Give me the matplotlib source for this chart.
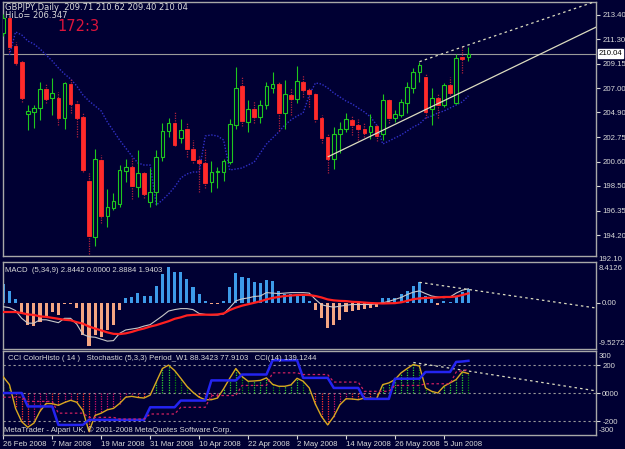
import matplotlib
matplotlib.use('Agg')
import matplotlib.pyplot as plt
import matplotlib.transforms as mtransforms
from matplotlib import font_manager
import numpy as np

plt.rcParams['font.family'] = ['DejaVu Sans']

def have_font(name):
    try:
        font_manager.findfont(font_manager.FontProperties(family=name), fallback_to_default=False)
        return True
    except Exception:
        return False

if have_font('Liberation Sans Narrow'):
    AXF = dict(family='Liberation Sans Narrow', size=6.6)
else:
    AXF = dict(family='Liberation Sans', size=5.6)

BG = '#000033'
FG = '#d8d8d8'
FRAME = '#a8a8a8'
GREEN = '#1ec81e'
RED = '#ff2a2a'
REDWICK = '#b0203c'

# ---------------- data ----------------
date_ticks = [0, 8, 16, 24, 32, 40, 48, 56, 64, 72]
date_labels = ['26 Feb 2008', '7 Mar 2008', '19 Mar 2008', '31 Mar 2008', '10 Apr 2008',
               '22 Apr 2008', '2 May 2008', '14 May 2008', '26 May 2008', '5 Jun 2008']

opens = [211.83, 213.10, 210.70, 209.33, 204.77, 204.97, 205.27, 206.92, 206.14, 206.14,
         204.39, 207.38, 205.64, 204.48, 198.93, 194.07, 200.76, 195.90, 196.55, 196.92,
         199.83, 200.17, 198.43, 199.60, 197.12, 197.99, 200.99, 203.29, 203.96, 202.70,
         203.44, 201.72, 200.76, 200.52, 198.87, 199.69, 199.74, 200.61, 203.81, 207.24,
         204.10, 205.20, 204.53, 205.55, 207.01, 207.36, 204.83, 206.43, 206.08, 207.58,
         206.86, 206.51, 204.39, 202.74, 200.82, 203.00, 203.46, 204.25, 203.81, 203.44,
         203.17, 203.72, 203.00, 205.99, 204.46, 204.68, 205.75, 207.01, 208.46, 208.02,
         205.18, 206.14, 205.55, 207.30, 205.75, 209.76, 209.71]
highs = [213.50, 213.40, 211.05, 209.48, 205.55, 205.55, 207.58, 207.50, 207.88, 206.71,
         207.58, 207.82, 205.99, 204.97, 199.60, 201.72, 201.19, 198.20, 197.85, 200.32,
         200.85, 200.91, 201.63, 199.74, 200.03, 201.63, 203.96, 204.45, 205.03, 204.31,
         203.96, 202.50, 201.13, 201.78, 200.67, 200.17, 200.85, 204.33, 208.89, 208.02,
         205.99, 205.90, 205.99, 207.53, 208.46, 207.58, 207.73, 207.01, 208.95, 208.17,
         207.15, 206.71, 204.68, 203.14, 203.61, 204.05, 204.83, 204.68, 204.33, 203.96,
         204.77, 203.81, 206.49, 206.08, 205.09, 206.05, 207.58, 208.75, 209.33, 208.26,
         207.01, 206.51, 207.50, 208.02, 210.00, 210.72, 210.62]
lows = [211.60, 210.17, 209.04, 205.84, 203.37, 203.55, 204.25, 205.70, 204.68, 203.81,
        203.44, 204.83, 202.79, 199.74, 192.60, 193.29, 195.24, 194.94, 196.40, 196.69,
        198.87, 197.36, 197.56, 197.42, 196.69, 196.83, 200.70, 202.79, 201.98, 202.21,
        200.99, 200.47, 197.99, 198.29, 197.94, 198.34, 198.95, 200.41, 203.44, 203.72,
        203.23, 203.96, 204.01, 205.20, 206.57, 203.31, 203.46, 204.68, 205.70, 206.28,
        205.41, 204.10, 202.21, 199.60, 199.97, 201.34, 203.17, 202.94, 202.50, 202.79,
        202.56, 202.41, 202.50, 203.96, 204.07, 204.48, 204.83, 206.63, 207.58, 204.39,
        203.81, 204.39, 205.41, 206.43, 205.64, 208.37, 209.40]
closes = [213.10, 210.61, 209.19, 206.14, 205.03, 205.27, 206.92, 206.05, 206.57, 204.39,
          207.45, 205.61, 204.39, 199.89, 194.16, 200.85, 195.88, 196.63, 197.18, 199.89,
          200.17, 198.49, 199.60, 197.77, 197.99, 201.05, 203.31, 203.96, 202.07, 203.37,
          201.69, 200.76, 200.47, 198.78, 199.69, 199.80, 200.67, 203.87, 207.01, 204.16,
          205.20, 204.53, 205.55, 207.21, 207.36, 204.88, 206.49, 206.08, 207.65, 206.86,
          206.49, 204.33, 202.65, 200.82, 203.03, 203.44, 204.33, 203.81, 203.46, 203.14,
          203.72, 202.88, 205.99, 204.46, 204.74, 205.84, 207.10, 208.46, 209.04, 204.97,
          206.19, 205.55, 207.30, 206.57, 209.63, 209.54, 210.04]

# HiLo activator line, bars 1..76
hilo_start = 1
hilo = [209.91, 211.92, 211.66, 211.13, 210.87, 210.44, 209.91, 209.39, 208.78, 208.26,
        207.82, 207.21, 206.43, 205.90, 205.47, 205.03, 204.07, 203.29, 202.50, 201.80,
        201.11, 200.50, 200.32, 200.32, 196.83, 197.27, 197.79, 198.40, 199.19, 199.54,
        199.71, 199.71, 202.85, 202.94, 202.85, 202.50, 199.89, 199.97, 200.06, 200.32,
        200.58, 201.37, 202.15, 202.68, 203.20, 203.81, 204.25, 204.59, 204.86, 206.43,
        207.47, 207.38, 207.04, 206.60, 206.25, 205.90, 205.64, 205.29, 204.94, 204.51,
        203.81, 202.15, 202.41, 202.68, 202.94, 203.29, 203.64, 203.90, 204.42, 204.59,
        204.86, 205.03, 205.29, 205.55, 205.82, 206.35]

bid = 210.04
price_ticks = [213.40, 211.30, 209.15, 207.00, 204.90, 202.75, 200.60, 198.50, 196.35, 194.20]
price_bottom_label = 192.10

# trendlines (bar index, value)
tl_low_x, tl_low_y = [53.1, 96.9], [201.05, 212.35]
tl_up_x, tl_up_y = [68.0, 96.9], [209.33, 214.60]
tl_macd_x, tl_macd_y = [68.0, 96.9], [4.22, -1.08]
tl_cci_x, tl_cci_y = [67.0, 96.9], [218.0, 15.0]

macd_hist = [3.87, 2.46, 0.70, -2.11, -4.57, -4.71, -3.87, -3.02, -1.90, -2.46,
             -0.35, -0.35, -1.05, -6.68, -8.93, -6.68, -7.03, -5.63, -4.57, -1.41,
             1.05, 1.20, 2.11, 1.41, 1.41, 3.52, 5.98, 7.38, 6.33, 6.33,
             4.92, 3.16, 1.76, 0.35, -0.21, -0.21, 0.35, 3.16, 6.12, 5.27,
             5.13, 4.22, 4.01, 4.71, 4.57, 2.46, 1.90, 1.90, 1.76, 1.41,
             0.35, -1.41, -3.16, -5.27, -4.57, -3.52, -1.90, -1.62, -1.41, -1.20,
             -1.05, -0.91, 1.05, 0.91, 0.91, 1.76, 2.46, 3.52, 4.22, 1.41,
             0.70, -0.49, 0.35, 0.21, 1.41, 2.32, 2.84]
macd_main = [-0.8, -1.0, -1.6, -3.2, -4.2, -4.2, -3.5, -3.5, -3.8, -4.1,
             -3.2, -3.2, -4.4, -6.5, -7.0, -7.1, -7.5, -7.9, -7.8, -6.3,
             -5.6, -5.4, -5.2, -4.8, -4.5, -3.6, -2.7, -1.7, -1.4, -1.2,
             -1.2, -1.4, -2.2, -2.4, -2.5, -2.5, -2.3, -1.0, 0.4, 0.8,
             1.0, 1.3, 1.4, 2.1, 2.0, 1.9, 2.0, 2.1, 2.1, 2.1,
             2.0, 0.7, -0.4, -0.7, -0.9, -0.7, -0.5, -0.35, -0.35, -0.35,
             -0.35, -0.2, 0.0, 0.3, 0.7, 1.1, 1.7, 2.2, 2.45, 1.9,
             1.4, 1.2, 1.05, 1.2, 2.0, 2.6, 2.89]
macd_signal = [-1.9, -1.9, -1.9, -2.1, -2.4, -2.5, -2.8, -2.9, -3.1, -3.3,
               -3.5, -3.6, -4.0, -4.3, -4.9, -5.3, -5.7, -6.1, -6.4, -6.45,
               -6.3, -6.0, -5.6, -5.3, -4.9, -4.6, -4.2, -3.8, -3.3, -3.0,
               -2.6, -2.5, -2.45, -2.45, -2.45, -2.4, -2.2, -1.5, -1.0, -0.6,
               -0.3, 0.0, 0.3, 0.7, 1.0, 1.2, 1.4, 1.5, 1.6, 1.65,
               1.6, 1.4, 1.1, 0.7, 0.5, 0.4, 0.35, 0.2, 0.15, 0.05,
               -0.05, -0.1, -0.14, -0.1, -0.07, 0.1, 0.4, 0.75, 0.9, 1.0,
               1.05, 1.1, 1.2, 1.2, 1.3, 1.6, 1.94]
macd_max, macd_min = 8.4126, -9.5272

cci = [115, 60, -110, -205, -245, -215, -130, -75, -76, -88,
       -68, -52, -66, -125, -275, -160, -144, -120, -110, -75,
       -30, -24, -32, -36, -15, 80, 175, 199, 160, 105,
       48, 5, -30, -48, -48, -36, 30, 105, 175, 118,
       84, 86, 90, 108, 62, 48, 48, 58, 105, 84,
       36, -80, -168, -228, -168, -84, -41, -43, -48, -36,
       -38, -41, 60, 72, 96, 144, 175, 204, 192, 36,
       12, 0, 48, 72, 96, 151, 139]
cci_levels = [200, 0, -200]

stoch_main = [50, 50, 50, 50, 34, 34, 34, 34, 34, 12,
              12, 12, 12, 12, 18, 18, 18, 18, 18, 18,
              18, 18, 18, 18, 33, 33, 33, 33, 33, 41,
              41, 41, 41, 41, 65, 65, 65, 65, 65, 72,
              72, 72, 72, 72, 89, 89, 89, 89, 89, 68,
              68, 68, 68, 68, 56, 56, 56, 56, 56, 43,
              43, 43, 43, 43, 67, 67, 67, 67, 67, 75,
              75, 75, 75, 75, 87, 87.5, 88.34]
stoch_signal = [45, 45, 45, 45, 40, 40, 40, 40, 40, 26,
                26, 26, 26, 26, 21, 21, 21, 21, 21, 19,
                19, 19, 19, 19, 25, 25, 25, 25, 25, 33,
                33, 33, 33, 33, 47, 47, 47, 47, 47, 59,
                59, 59, 59, 59, 74, 74, 74, 74, 74, 72,
                72, 72, 72, 72, 63, 63, 63, 63, 63, 52,
                52, 52, 52, 52, 59, 59, 59, 59, 59, 61,
                61, 61, 61, 61, 75, 76.5, 77.91]

# ---------------- figure ----------------
W, H = 625, 449
fig = plt.figure(figsize=(W / 100, H / 100), dpi=100, facecolor=BG)

def px_axes(top, bottom):
    return fig.add_axes([3 / W, 1 - bottom / H, (596 - 3) / W, (bottom - top) / H], facecolor=BG)

ax = px_axes(2, 256)
axm = px_axes(262, 349)
axc = px_axes(351, 435)

# stochastic overlay on its own 0..100 scale in the CCI window
axs = axc.twinx()
axs.axis('off')

XL = (-0.05, 96.85)
for a in (ax, axm, axc):
    a.set_xlim(*XL)
    for s in a.spines.values():
        s.set_color(FRAME)
        s.set_linewidth(1.0)
    a.yaxis.tick_right()
    a.tick_params(axis='y', left=False, labelleft=False, right=True, labelright=True,
                  colors=FG, length=3, width=0.8, pad=1.5, direction='out')
    a.tick_params(axis='x', bottom=False, labelbottom=False)

def style_ticklabels(a, axis='y'):
    labels = a.get_yticklabels() if axis == 'y' else a.get_xticklabels()
    for t in labels:
        t.set_fontfamily(AXF['family'])
        t.set_fontsize(AXF['size'])
        t.set_color(FG)

def axtext(a, xx, yy, s, transform, **kw):
    a.text(xx, yy, s, transform=transform, fontfamily=AXF['family'], fontsize=AXF['size'],
           va='center', ha='left', clip_on=False, **kw)

n = len(closes)
x = np.arange(n)
o = np.array(opens); h = np.array(highs); l = np.array(lows); c = np.array(closes)
up = c >= o

# ---- main chart ----
ax.set_ylim(192.39, 214.53)
ax.set_yticks(price_ticks)
ax.set_yticklabels(['%.2f' % v for v in price_ticks])
style_ticklabels(ax)

ax.axhline(bid, color='#9a9a9a', lw=0.8, zorder=1)

ax.vlines(x[up], l[up], h[up], color=GREEN, lw=0.8, zorder=3)
ax.vlines(x[~up], l[~up], h[~up], color=REDWICK, lw=0.9, linestyles=(0, (1, 1)), zorder=3)
ax.bar(x[up], (c - o)[up], bottom=o[up], width=0.6, facecolor=BG, edgecolor=GREEN, lw=0.8, zorder=4)
ax.bar(x[~up], (o - c)[~up], bottom=c[~up], width=0.6, facecolor=RED, edgecolor=RED, lw=0.6, zorder=4)

hx = np.arange(hilo_start, hilo_start + len(hilo))
ax.plot(hx, hilo, color='#3030c8', lw=1.0, ls=(0, (1, 1.2)), zorder=2)

ax.plot(tl_low_x, tl_low_y, color='#dcdcc0', lw=0.9, zorder=5)
ax.plot(tl_up_x, tl_up_y, color='#dcdcc0', lw=0.9, ls=(0, (2, 2.5)), zorder=5)

blend = mtransforms.blended_transform_factory(ax.transAxes, ax.transData)
axtext(ax, 1.0045, bid, '%.2f' % bid, blend, color='black', zorder=10,
       bbox=dict(boxstyle='square,pad=0.12', facecolor='white', edgecolor='white'))
axtext(ax, 1.0045, price_bottom_label, '%.2f' % price_bottom_label, blend, color=FG)

# ---- MACD ----
axm.set_ylim(macd_min, macd_max)
axm.set_yticks([0])
axm.set_yticklabels(['0.00'])
style_ticklabels(axm)
mh = np.array(macd_hist)
cols = ['#3d9be9' if v >= 0 else '#f4a582' for v in mh]
axm.bar(x, mh, width=0.5, color=cols, zorder=2)
axm.plot(x, macd_main, color='#c8c8c8', lw=0.8, zorder=3)
axm.plot(x, macd_signal, color='#ff2020', lw=1.6, zorder=4)
axm.plot(tl_macd_x, tl_macd_y, color='#dcdcc0', lw=0.9, ls=(0, (2, 2.5)), zorder=5)
axtext(axm, 1.0045, 0.93, '%.4f' % macd_max, axm.transAxes, color=FG)
axtext(axm, 1.0045, 0.06, '%.4f' % macd_min, axm.transAxes, color=FG)

# ---- CCI / Stochastic ----
axc.set_ylim(-300, 300)
axc.set_yticks(cci_levels)
axc.set_yticklabels(['200', '0000', '-200'])
style_ticklabels(axc)
for lv in cci_levels:
    axc.axhline(lv, color='#9a9a9a', lw=0.8, ls=(0, (2, 2.5)), zorder=1)
cc = np.array(cci, dtype=float)
d = np.diff(np.concatenate([[cc[0]], cc]))
hcols = []
for v, dv in zip(cc, d):
    if v >= 0:
        hcols.append('#2fd02f' if dv >= 0 else '#0a8a0a')
    else:
        hcols.append('#ff3030' if dv < 0 else '#d0106a')
axc.vlines(x, 0, cc, colors=hcols, lw=0.9, linestyles=(0, (1, 1)), zorder=2)

axs.set_xlim(*XL)
axs.set_ylim(0, 100)
axs.plot(x, stoch_main, color='#2424f0', lw=1.8, zorder=3)
axs.plot(x, stoch_signal, color='#d02060', lw=0.9, ls=(0, (2, 2)), zorder=3)
axc.plot(x, cci, color='#d8a820', lw=1.0, zorder=6)
axc.plot(tl_cci_x, tl_cci_y, color='#dcdcc0', lw=0.9, ls=(0, (2, 2.5)), zorder=7)
axtext(axc, 1.0045, 0.94, '300', axc.transAxes, color=FG)
axtext(axc, 1.0045, 0.05, '-300', axc.transAxes, color=FG)

axc.tick_params(axis='x', bottom=True, labelbottom=True, colors=FG, length=3,
                width=0.8, pad=1, direction='out')
axc.set_xticks(date_ticks)
axc.set_xticklabels(date_labels, ha='left')
style_ticklabels(axc, 'x')

# ---- texts ----
def ftext(px, py, s, **kw):
    fig.text(px / W, 1 - py / H, s, va='center', ha='left', **kw)

ftext(5, 7.5, 'GBPJPY,Daily  209.71 210.62 209.40 210.04', fontsize=6, color=FG, family='DejaVu Sans')
ftext(5, 16, 'HiLo= 206.347', fontsize=6, color=FG, family='DejaVu Sans')
ftext(57, 26.5, '172:3', fontsize=10.5, color='#dc143c', family='DejaVu Sans')
ftext(5, 270, 'MACD  (5,34,9) 2.8442 0.0000 2.8884 1.9403', color=FG,
      family=AXF['family'], fontsize=AXF['size'])
ftext(8, 358, 'CCI ColorHisto ( 14 )   Stochastic (5,3,3) Period_W1 88.3423 77.9103   CCI(14) 139.1244',
      color=FG, family=AXF['family'], fontsize=AXF['size'])
ftext(4, 430, 'MetaTrader - Alpari UK, \u00a9 2001-2008 MetaQuotes Software Corp.', color=FG,
      family=AXF['family'], fontsize=AXF['size'])

fig.savefig('out.png', dpi=100, facecolor=BG)
